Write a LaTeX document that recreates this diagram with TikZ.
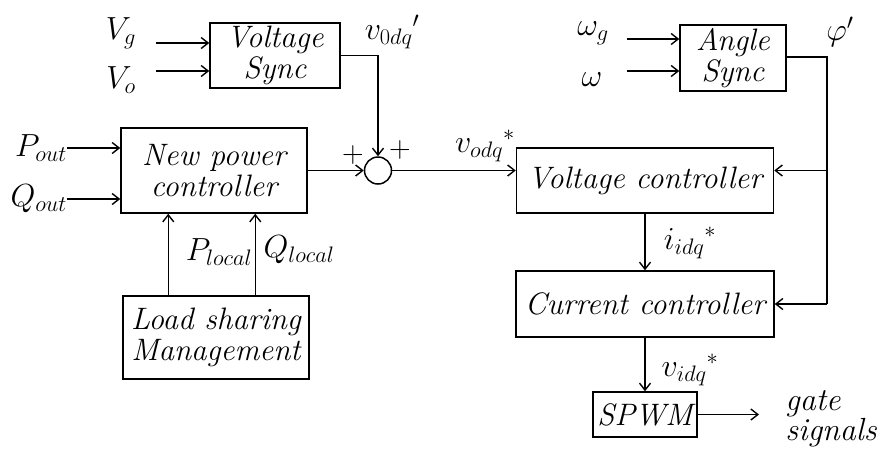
\RequirePackage{fix-cm}
\documentclass[tikz,border=0pt]{standalone}
\usetikzlibrary{positioning, arrows.meta, calc}

\begin{document}
\begin{tikzpicture}
    [
        x=1pt, y=-1pt,
        every node/.style={font=\fontsize{32}{34}\selectfont},
        block/.style={draw, rectangle, line width=1.5pt, align=center, inner sep=2pt, font=\fontsize{31}{31}\selectfont\itshape},
        sum/.style={draw, circle, line width=1.5pt, minimum size=27pt, inner sep=0pt},
        lbl/.style={inner sep=0pt},
        pm/.style={inner sep=0pt, font=\fontsize{30}{32}\selectfont},
        sig/.style={-{Straight Barb[length=7pt, width=11pt]}, line width=1.4pt},
        wire/.style={line width=1.4pt}
    ]
        \useasboundingbox (0,0) rectangle (885,456);
        % =========================================================================
        % NODES
        % =========================================================================
        % --- Sync blocks ---
        \node [block, minimum width=130pt, minimum height=65pt] (vsync) at (275,55.5) {Voltage\\Sync};
        \node [block, minimum width=106pt, minimum height=66pt] (async) at (733,58) {Angle\\Sync};
        % --- Power side ---
        \node [block, minimum width=186pt, minimum height=85pt] (npc) at (214,170.5) {New power\\controller};
        \node [block, minimum width=186pt, minimum height=83pt] (lsm) at (216,337.5) {Load sharing\\Management};
        \node [sum] (sum) at (378,170.5) {};
        % --- Inner loops ---
        \node [block, minimum width=257pt, minimum height=65pt] (vctrl) at (645,180.5) {Voltage controller};
        \node [block, minimum width=258pt, minimum height=66pt] (cctrl) at (645,304) {Current controller};
        \node [block, minimum width=104pt, minimum height=45pt] (spwm) at (645,414.5) {SPWM};

        % --- Signals ---
        \node [lbl] (vg) at (121,33) {$V_g$};
        \node [lbl] (vo) at (121,80) {$V_o$};
        \node [lbl] (v0dq) at (392,32) {$v_{0dq}{}'$};
        \node [lbl, anchor=east] (pout) at (67,148) {$P_{out}$};
        \node [lbl, anchor=east] (qout) at (67,199) {$Q_{out}$};
        \node [lbl] (plocal) at (219,252) {$P_{local}$};
        \node [lbl] (qlocal) at (299,250) {$Q_{local}$};
        \node [pm] (plus1) at (353,155) {$+$};
        \node [pm] (plus2) at (400,150) {$+$};
        \node [lbl] (vodq) at (485,146) {$v_{odq}{}^{*}$};
        \node [lbl] (wg) at (593,33) {$\omega_g$};
        \node [lbl] (w) at (592,80) {$\omega$};
        \node [lbl] (phi) at (840,32) {$\varphi'$};
        \node [lbl] (iidq) at (690,243) {$i_{idq}{}^{*}$};
        \node [lbl] (vidq) at (690,370) {$v_{idq}{}^{*}$};
        \node [lbl, align=left, font=\fontsize{32}{28}\selectfont\itshape] (gate) at (831,419) {gate\\signals};

        \coordinate (vgin) at (156,43);
        \coordinate (voin) at (156,71);
        \coordinate (wgin) at (627,39);
        \coordinate (win) at (627,71);
        \coordinate (tap) at (827,57);
        \coordinate (gout) at (759,414.5);

        % =========================================================================
        % PATHS
        % =========================================================================
        % --- Sync inputs ---
        \draw [sig] (vgin) -- (vgin -| vsync.west);
        \draw [sig] (voin) -- (voin -| vsync.west);
        \draw [sig] (wgin) -- (wgin -| async.west);
        \draw [sig] (win) -- (win -| async.west);
        % --- Power controller ---
        \draw [sig] (pout.east) -- (pout.east -| npc.west);
        \draw [sig] (qout.east) -- (qout.east -| npc.west);
        \draw [sig] ([xshift=46pt]lsm.north west) -- ([xshift=46pt]lsm.north west |- npc.south);
        \draw [sig] ([xshift=133pt]lsm.north west) -- ([xshift=133pt]lsm.north west |- npc.south);
        % --- Summing point ---
        \draw [sig] (npc.east) -- (sum.west);
        \draw [sig] (vsync.east) -| (sum.north);
        \draw [sig] (sum.east) -- (sum.east -| vctrl.west);
        % --- Angle feedback ---
        \draw [wire] (async.east |- tap) -- (tap) -- (tap |- cctrl.east);
        \draw [sig] (tap |- sum) -- (vctrl.east |- sum);
        \draw [sig] (tap |- cctrl.east) -- (cctrl.east);
        % --- Cascade ---
        \draw [sig] (vctrl.south) -- (cctrl.north);
        \draw [sig] (cctrl.south) -- (spwm.north);
        \draw [sig] (spwm.east) -- (gout);
    \end{tikzpicture}
\end{document}
